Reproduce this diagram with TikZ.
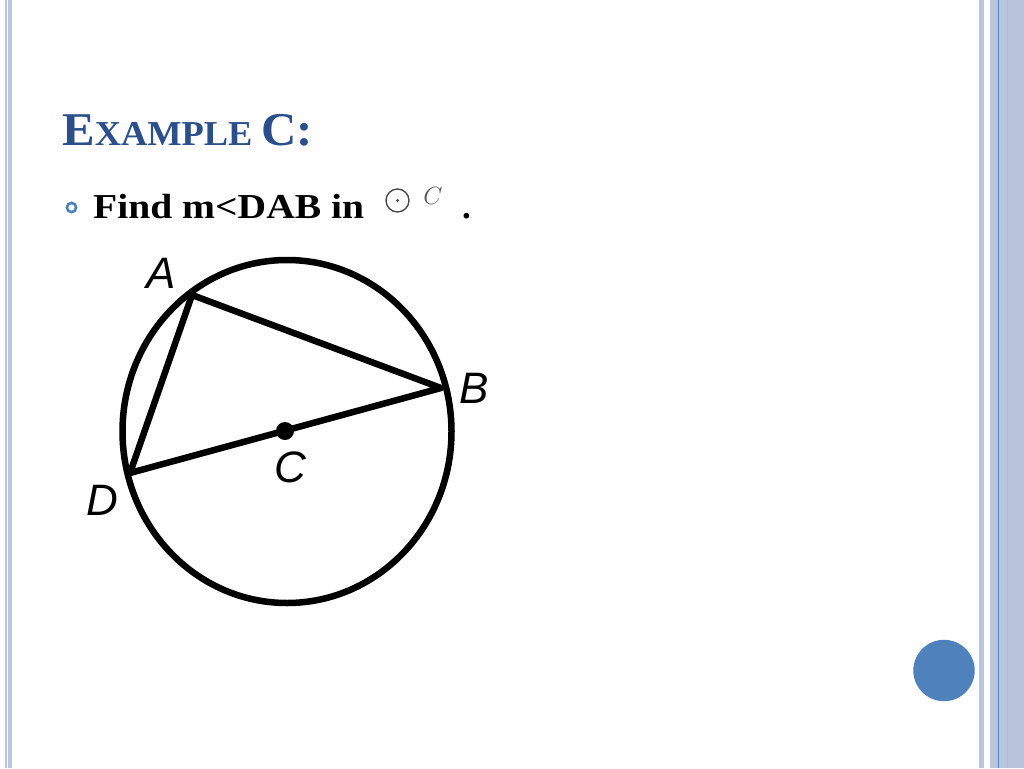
\documentclass[tikz,border=0pt]{standalone}
\usepackage{fontspec}
\setmainfont{Liberation Serif}
\newfontfamily\lsans{Liberation Sans}
\begin{document}
\begin{tikzpicture}[x=1pt,y=-1pt,
  band/.style={fill=#1,draw=none},
  geo/.style={line width=6.5pt,black},
  ptlabel/.style={font=\lsans\itshape\fontsize{44}{44}\selectfont,inner sep=0pt},
  title/.style={font=\bfseries,text=titleblue,anchor=base west,inner sep=0pt},
  body/.style={font=\bfseries\fontsize{35}{35}\selectfont,anchor=base west,inner sep=0pt}]
\definecolor{titleblue}{HTML}{2A4F8A}
\definecolor{bandc}{HTML}{BAC5DD}
\definecolor{bandd}{HTML}{5B86C4}
\definecolor{accent}{HTML}{4F81BD}
\useasboundingbox (0,0) rectangle (1024,768);
\fill[white] (0,0) rectangle (1024,768);
% left border
\fill[band=bandc] (5,0) rectangle (6.6,768);
\fill[band=bandc] (8,0) rectangle (12,768);
% right border
\fill[band=bandc] (979,0) rectangle (983.5,768);
\fill[band=bandc] (990,0) rectangle (1024,768);
\fill[band=bandd] (997.8,0) rectangle (998.8,768);
\fill[band=bandc!85!gray] (1006.5,0) rectangle (1007.5,768);
% blue circle
\fill[accent] (944,670.5) circle (30.7);
% title
\node[title] (t) at (62,145) {\scalebox{1.04}[1]{\fontsize{47}{47}\selectfont E\fontsize{35}{35}\selectfont XAMPLE \fontsize{47}{47}\selectfont C:}};
% bullet
\draw[accent,line width=2.6pt] (71.5,207.5) circle (4.6);
\node[body] (f) at (93,218) {\scalebox{1.13}[1]{Find m<DAB in}};
\node[body] (dot) at (462,218) {.};
% odot C symbol
\draw[black!70,line width=1.4pt] (397.5,200.5) circle (11.5);
\fill[black!70] (397.5,200.5) circle (1.7);
\node[inner sep=0pt,text=black!65,font=\fontsize{27}{27}\selectfont] (cs) at (433,196) {$C$};
% circle diagram
\coordinate (O) at (287,431.5);
\draw[geo] (O) ellipse [x radius=164.5, y radius=171.5];
\coordinate (A) at (192,295);
\coordinate (B) at (441,388);
\coordinate (D) at (130,473);
\draw[geo,line join=round] (D) -- (A) -- (B) -- (D);
\fill (285,431) circle (9);
\node[ptlabel] (la) at (161,273) {A};
\node[ptlabel] (lb) at (474,388) {B};
\node[ptlabel] (lc) at (290,467) {C};
\node[ptlabel] (ld) at (102,500) {D};
\end{tikzpicture}
\end{document}
